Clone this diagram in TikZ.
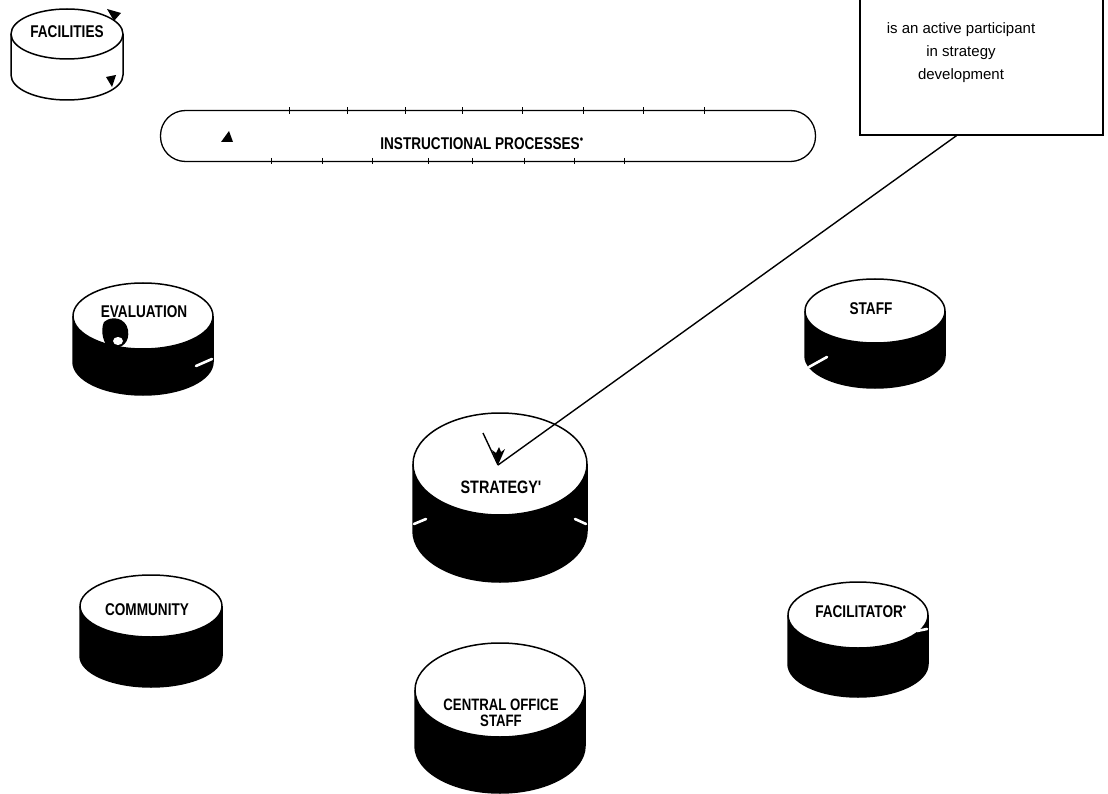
\documentclass[tikz,border=0pt]{standalone}
\usepackage{fontspec}
\setmainfont{Liberation Sans}
\newfontfamily\labfont[FakeStretch=0.8]{Liberation Sans}
\usetikzlibrary{calc}

% a puck: white top ellipse over a side band
% #1 name, #2 cx, #3 cy, #4 rx, #5 ry, #6 side height, #7 side colour
\newcommand{\puck}[7]{%
  \fill[#7] (#2-#4,#3) -- (#2-#4,#3+#6)
     arc[start angle=180,end angle=0,x radius=#4,y radius=#5] -- (#2+#4,#3) -- cycle;
  \draw[rim] (#2-#4,#3) -- (#2-#4,#3+#6)
     arc[start angle=180,end angle=0,x radius=#4,y radius=#5] -- (#2+#4,#3);
  \filldraw[rim,fill=white] (#2,#3) ellipse[x radius=#4,y radius=#5];
  \coordinate (#1) at (#2,#3);}

\begin{document}
\begin{tikzpicture}[x=1pt,y=-1pt,
  rim/.style={line width=1.5pt,line join=round},
  lab/.style={font=\labfont\bfseries\fontsize{17}{18}\selectfont,inner sep=0pt,align=center},
  notch/.style={white,line width=2.6pt,line cap=round},
  tick/.style={line width=0.9pt}]
\useasboundingbox (0,0) rectangle (1108,794);

% ---- pucks ----
\puck{facil}{67}{34}{56}{25}{41}{white}
\puck{eval}{143}{316}{70}{33}{46}{black}
\puck{staff}{875}{311}{70}{32}{45}{black}
\puck{strat}{500}{464}{87}{51}{67}{black}
\puck{comm}{151}{606}{71}{31}{50}{black}
\puck{facilit}{858}{615}{70}{33}{49}{black}
\puck{cos}{500}{690}{85}{47}{56}{black}

% labels on the top faces
\node[lab] (facilt) at (67,32) {FACILITIES};
\node[lab] (evalt) at (144,312) {EVALUATION};
\node[lab] (stafft) at (871,309) {STAFF};
\node[lab,font=\labfont\bfseries\fontsize{18}{19}\selectfont] (stratt) at (501,487) {STRATEGY'};
\node[lab] (commt) at (147,610) {COMMUNITY};
\node[lab] (facilitt) at (861,612) {FACILITATOR\textsuperscript{\textbullet}};
\node[lab,font=\labfont\bfseries\fontsize{16.5}{16.5}\selectfont] (cost) at (501,713) {CENTRAL OFFICE\\STAFF};

% breaks in the side bands
\draw[notch] (196,366) -- (212,359);
\draw[notch] (809,367) -- (827,357);
\draw[notch] (414,524) -- (426,519);
\draw[notch] (575,519) -- (586,524);
\draw[notch] (917,631) -- (927,629);

% marks on the facilities rim
\fill (107,9) -- (121,13) -- (114,21) -- cycle;
\fill (106,77) -- (116,75) -- (112,87) -- cycle;

% blot on the evaluation puck
\fill (104,322) .. controls (112,315) and (126,318) .. (128,330)
  .. controls (130,342) and (122,349) .. (112,348)
  .. controls (103,347) and (100,330) .. (104,322);
\fill[white] (118,341) ellipse[x radius=5,y radius=4];

% ---- instructional processes band ----
\node[draw,line width=1.3pt,rounded corners=25pt,minimum width=655pt,minimum height=51pt,inner sep=0pt]
  (instr) at (488,136) {};
\node[lab,font=\labfont\bfseries\fontsize{17}{18}\selectfont] (instrt) at (482,144)
  {INSTRUCTIONAL PROCESSES\textsuperscript{\textbullet}};
\foreach \x in {289,347,405,462,522,583,643,704}
  \draw[tick] (\x,107.5) -- (\x,114);
\foreach \x in {271,322,372,428,472,524,574,624}
  \draw[tick] (\x,158) -- (\x,164);
\fill (229,131) -- (233,142) -- (221,142) -- cycle;

% ---- note box and its pointer ----
\node[draw,line width=1.3pt,minimum width=243pt,minimum height=160pt,inner sep=0pt]
  (note) at (981.5,55) {};
\node[font=\fontsize{15}{23}\selectfont,align=center,inner sep=0pt] (notet) at (961,53)
  {is an active participant\\in strategy\\development};
\draw[line width=1.4pt] ($(note.south)+(-25,0)$) -- ($(strat)+(-2,1)$);
\draw[line width=1.4pt] ($(strat)+(-2,1)$) -- ++(-15,-32);
\fill ($(strat)+(-2,1)$) -- ++(-6,-15) -- ++(4,3) -- ++(3,-6) -- ++(2,5) -- ++(4,-3) -- cycle;
\end{tikzpicture}
\end{document}
